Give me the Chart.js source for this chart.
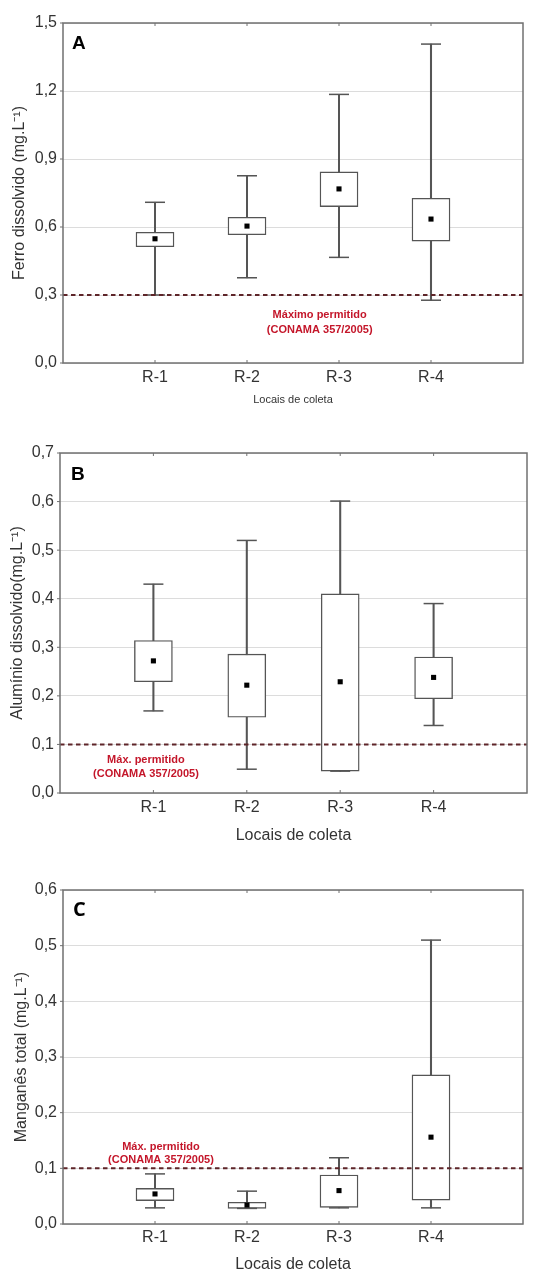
<!DOCTYPE html>
<html>
<head>
<meta charset="utf-8">
<script src="https://cdn.jsdelivr.net/npm/chart.js@4.4.1/dist/chart.umd.min.js"></script>
<style>
  body { margin: 0; background: #fff; }
  canvas { display: block; }
</style>
</head>
<body>
<canvas id="chartA" width="542" height="420"></canvas>
<canvas id="chartB" width="542" height="430"></canvas>
<canvas id="chartC" width="542" height="422"></canvas>
<script>
// Sampling sites
const categories = ['R-1', 'R-2', 'R-3', 'R-4'];

// A - Ferro dissolvido
const feMin = [0.300, 0.376, 0.466, 0.277];
const feQ1 = [0.513, 0.566, 0.690, 0.538];
const feQ3 = [0.577, 0.643, 0.843, 0.727];
const feMax = [0.709, 0.826, 1.185, 1.407];
const feMean = [0.548, 0.604, 0.768, 0.635];
const feLimit = 0.3;
const feTicks = [0, 0.3, 0.6, 0.9, 1.2, 1.5];

// B - Aluminio dissolvido
const alMin = [0.169, 0.049, 0.045, 0.139];
const alQ1 = [0.229, 0.156, 0.045, 0.194];
const alQ3 = [0.314, 0.286, 0.410, 0.280];
const alMax = [0.430, 0.520, 0.601, 0.390];
const alMean = [0.272, 0.222, 0.229, 0.238];
const alLimit = 0.1;
const alTicks = [0, 0.1, 0.2, 0.3, 0.4, 0.5, 0.6, 0.7];

// C - Manganes total
const mnMin = [0.029, 0.028, 0.029, 0.029];
const mnQ1 = [0.042, 0.028, 0.030, 0.043];
const mnQ3 = [0.064, 0.039, 0.088, 0.268];
const mnMax = [0.090, 0.059, 0.119, 0.510];
const mnMean = [0.054, 0.034, 0.060, 0.156];
const mnLimit = 0.1;
const mnTicks = [0, 0.1, 0.2, 0.3, 0.4, 0.5, 0.6];

const FONT = "'Liberation Sans', Arial, sans-serif";
const LINE = '#555';

// frame, panel letter and red notes
const framePlugin = {
    id: 'frame',
    afterDatasetsDraw(chart, args, opts) {
        const { ctx, chartArea: a, scales } = chart;
        ctx.save();
        ctx.strokeStyle = '#707070';
        ctx.lineWidth = 1.5;
        ctx.strokeRect(a.left, a.top, a.right - a.left, a.bottom - a.top);
        // small ticks
        ctx.lineWidth = 1;
        ctx.beginPath();
        categories.forEach((c, i) => {
            const x = scales.x.getPixelForValue(i + 1);
            ctx.moveTo(x, a.top); ctx.lineTo(x, a.top + 3);
            ctx.moveTo(x, a.bottom); ctx.lineTo(x, a.bottom - 3);
        });
        scales.y.ticks.forEach(t => {
            const y = scales.y.getPixelForValue(t.value);
            ctx.moveTo(a.left - 3, y); ctx.lineTo(a.left, y);
        });
        ctx.stroke();
        // letter
        ctx.fillStyle = '#000';
        ctx.font = opts.letterFont;
        ctx.textAlign = 'left';
        ctx.textBaseline = 'middle';
        ctx.fillText(opts.letter, a.left + opts.letterDx, a.top + opts.letterDy);
        // notes
        ctx.fillStyle = '#c4162a';
        ctx.font = 'bold 11px ' + FONT;
        ctx.textAlign = 'center';
        opts.notes.forEach(n => {
            ctx.fillText(n.text, scales.x.getPixelForValue(n.x), scales.y.getPixelForValue(n.y));
        });
        ctx.restore();
    }
};

function makePanel(id, d, p) {
    const pts = arr => arr.map((v, i) => ({ x: i + 1, y: v }));
    const ctx = document.getElementById(id).getContext('2d');
    return new Chart(ctx, {
        type: 'bar',
        data: {
            datasets: [
                {
                    type: 'line',
                    data: [{ x: 0, y: d.limit }, { x: 5, y: d.limit }],
                    borderColor: '#5e2529',
                    borderWidth: 2,
                    borderDash: [4.5, 3.5],
                    pointRadius: 0,
                    order: 1
                },
                {
                    type: 'line',
                    data: pts(d.mean),
                    showLine: false,
                    pointStyle: 'rect',
                    pointRadius: 3.6,
                    pointBackgroundColor: '#000',
                    pointBorderWidth: 0,
                    order: 2
                },
                {
                    type: 'line',
                    data: pts(d.max).concat(pts(d.min)),
                    showLine: false,
                    pointStyle: 'line',
                    pointRadius: 10,
                    borderColor: LINE,
                    borderWidth: 1.5,
                    order: 3
                },
                {
                    data: d.q1.map((v, i) => ({ x: i + 1, y: [v, d.q3[i]] })),
                    backgroundColor: '#fff',
                    borderColor: LINE,
                    borderWidth: 1.4,
                    borderSkipped: false,
                    barThickness: 38,
                    grouped: false,
                    order: 4
                },
                {
                    data: d.min.map((v, i) => ({ x: i + 1, y: [v, d.max[i]] })),
                    backgroundColor: LINE,
                    borderWidth: 0,
                    barThickness: 1.4,
                    grouped: false,
                    order: 5
                }
            ]
        },
        options: {
            responsive: false,
            animation: false,
            layout: { padding: { top: p.top, right: p.right, bottom: 0, left: 0 } },
            plugins: {
                legend: { display: false },
                tooltip: { enabled: false },
                frame: { letter: p.letter, letterFont: p.letterFont, letterDx: p.letterDx, letterDy: p.letterDy, notes: p.notes }
            },
            scales: {
                x: {
                    type: 'linear',
                    min: 0,
                    max: 5,
                    offset: false,
                    grid: { display: false, drawTicks: false, offset: false },
                    border: { display: false },
                    afterBuildTicks: s => { s.ticks = categories.map((c, i) => ({ value: i + 1 })); },
                    afterFit: s => { s.height = p.xHeight; },
                    ticks: {
                        padding: p.xPad,
                        color: '#333',
                        font: { family: FONT, size: 16 },
                        callback: v => categories[v - 1] || ''
                    },
                    title: {
                        display: true,
                        text: 'Locais de coleta',
                        color: '#333',
                        font: { family: FONT, size: p.xTitleSize },
                        padding: { top: 0, bottom: p.xTitlePad }
                    }
                },
                y: {
                    min: 0,
                    max: d.ticks[d.ticks.length - 1],
                    grid: { color: '#dcdcdc', lineWidth: 1, drawTicks: false },
                    border: { display: false },
                    afterBuildTicks: s => { s.ticks = d.ticks.map(v => ({ value: v })); },
                    afterFit: s => { s.width = p.yWidth; },
                    ticks: {
                        padding: 6,
                        color: '#333',
                        font: { family: FONT, size: 16 },
                        callback: v => v.toFixed(1).replace('.', ',')
                    },
                    title: {
                        display: true,
                        text: p.yTitle,
                        color: '#333',
                        font: { family: FONT, size: 16 },
                        padding: { top: p.yTitlePad, bottom: 0 }
                    }
                }
            }
        },
        plugins: [framePlugin]
    });
}

makePanel('chartA',
    { min: feMin, q1: feQ1, q3: feQ3, max: feMax, mean: feMean, limit: feLimit, ticks: feTicks },
    {
        top: 23, right: 19, yWidth: 63, xHeight: 57, xPad: 5, xTitleSize: 11, xTitlePad: 13, yTitlePad: 10,
        yTitle: 'Ferro dissolvido (mg.L⁻¹)',
        letter: 'A', letterFont: 'bold 19px ' + FONT, letterDx: 9, letterDy: 21,
        notes: [
            { text: 'Máximo permitido', x: 2.79, y: 0.212 },
            { text: '(CONAMA 357/2005)', x: 2.79, y: 0.146 }
        ]
    });

makePanel('chartB',
    { min: alMin, q1: alQ1, q3: alQ3, max: alMax, mean: alMean, limit: alLimit, ticks: alTicks },
    {
        top: 33, right: 15, yWidth: 60, xHeight: 57, xPad: 5, xTitleSize: 16, xTitlePad: 5, yTitlePad: 8,
        yTitle: 'Alumínio dissolvido(mg.L⁻¹)',
        letter: 'B', letterFont: 'bold 19px ' + FONT, letterDx: 11, letterDy: 22,
        notes: [
            { text: 'Máx. permitido', x: 0.92, y: 0.068 },
            { text: '(CONAMA 357/2005)', x: 0.92, y: 0.039 }
        ]
    });

makePanel('chartC',
    { min: mnMin, q1: mnQ1, q3: mnQ3, max: mnMax, mean: mnMean, limit: mnLimit, ticks: mnTicks },
    {
        top: 40, right: 19, yWidth: 63, xHeight: 48, xPad: 4, xTitleSize: 16, xTitlePad: -2, yTitlePad: 12,
        yTitle: 'Manganês total (mg.L⁻¹)',
        letter: 'C', letterFont: "bold 20px 'Open Sans', sans-serif", letterDx: 10, letterDy: 20,
        notes: [
            { text: 'Máx. permitido', x: 1.065, y: 0.139 },
            { text: '(CONAMA 357/2005)', x: 1.065, y: 0.115 }
        ]
    });
</script>
</body>
</html>
